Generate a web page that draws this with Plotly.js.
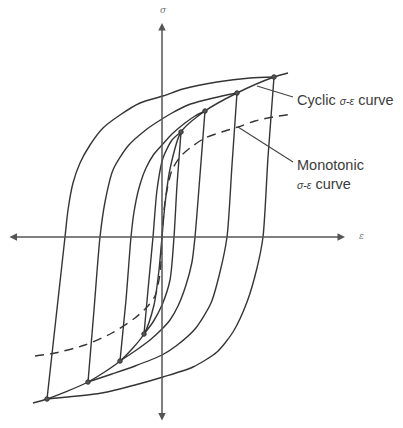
<!DOCTYPE html>
<html>
<head>
<meta charset="utf-8">
<script src="https://cdn.plot.ly/plotly-3.0.1.min.js"></script>
<style>
  html, body { margin: 0; padding: 0; background: #ffffff; }
  #chart { width: 403px; height: 428px; }
</style>
</head>
<body>
<div id="chart"></div>
<script>
// Stable hysteresis loops of increasing strain amplitude (arbitrary units),
// the cyclic stress-strain curve through the loop tips and the monotonic curve.

// Loop 1 (largest amplitude)
const loop1UpStrain = [-11.5, -10.6, -9.7, -9.4, -8.9, -8.2, -7.2, -5.9, -4.2, -2.2, 0.1, 2.1, 5.5, 8.8, 11.2];
const loop1UpStress = [-16.2, -8.1, 0, 2.7, 5.4, 7.4, 9.2, 10.9, 12.2, 13.4, 14.1, 14.8, 15.5, 15.9, 16.0];
const loop1DownStrain = [11.2, 10.6, 10.1, 9.5, 8.5, 7.1, 5.5, 3.1, 0.1, -2.7, -6.0, -9.4, -11.5];
const loop1DownStress = [16.0, 8.0, 0, -3.1, -6.5, -9.5, -11.5, -13.0, -14.0, -14.8, -15.6, -16.0, -16.2];

// Loop 2
const loop2UpStrain = [-7.4, -6.8, -6.2, -5.7, -4.9, -3.4, -1.5, 0, 1.0, 2.6, 4.3, 6.0, 7.5];
const loop2UpStress = [-14.5, -7.3, 0, 3.5, 6.7, 9.1, 10.8, 11.8, 12.4, 13.2, 13.7, 14.1, 14.4];
const loop2DownStrain = [7.5, 7.0, 6.5, 5.8, 4.9, 3.3, 1.4, 0, -2.7, -5.0, -7.4];
const loop2DownStress = [14.4, 7.2, 0, -3.5, -6.6, -9.2, -10.9, -11.8, -12.9, -13.7, -14.5];

// Loop 3
const loop3UpStrain = [-4.2, -3.6, -3.1, -2.8, -2.3, -1.6, -0.8, 0, 1.0, 2.3, 3.3, 4.3];
const loop3UpStress = [-12.4, -6.3, 0, 2.5, 4.9, 6.9, 8.3, 9.2, 10.3, 11.4, 12.1, 12.6];
const loop3DownStrain = [4.3, 3.8, 3.3, 3.0, 2.4, 1.6, 0.8, 0, -1.2, -2.7, -4.2];
const loop3DownStress = [12.6, 6.2, 0, -2.5, -4.8, -6.9, -8.3, -9.2, -10.3, -11.4, -12.4];

// Loop 4 (smallest amplitude)
const loop4UpStrain = [-1.8, -1.4, -0.9, -0.5, 0.1, 1.0, 1.9];
const loop4UpStress = [-9.7, -5.3, 0, 4.7, 7.9, 9.7, 10.5];
const loop4DownStrain = [1.9, 1.5, 1.2, 0.8, 0, -0.9, -1.8];
const loop4DownStress = [10.5, 5.2, 0, -4.3, -6.8, -8.5, -9.7];

// Loop tips
const tipStrain = [11.2, 7.5, 4.3, 1.9, -1.8, -4.2, -7.4, -11.5];
const tipStress = [16.0, 14.4, 12.6, 10.5, -9.7, -12.4, -14.5, -16.2];

// Cyclic stress-strain curve (through the tips)
const cyclicStrain = [-12.9, -11.5, -7.4, -4.2, -1.8, -0.8, -0.3, 0, 0.3, 0.8, 1.9, 4.3, 7.5, 11.2, 12.6];
const cyclicStress = [-16.6, -16.2, -14.5, -12.4, -9.7, -6.8, -3.3, 0, 3.3, 6.8, 10.5, 12.6, 14.4, 16.0, 16.4];

// Monotonic stress-strain curve
const monoStrain = [-12.7, -10.7, -7.7, -5.0, -2.7, -1.4, -0.7, -0.3, -0.1, 0, 0.2, 0.5, 1.0, 1.8, 2.8, 4.3, 6.0, 7.6, 9.3, 11.1, 13.1];
const monoStress = [-11.9, -11.6, -10.8, -9.6, -8.1, -6.9, -5.9, -4.3, -2.5, 0, 2.7, 4.7, 6.7, 8.0, 8.9, 9.9, 10.5, 11.0, 11.6, 12.0, 12.3];

const ink = '#353535';
const solid = { color: ink, width: 1.4, shape: 'spline', smoothing: 0.7 };

function branch(x, y) {
  return { x: x, y: y, type: 'scatter', mode: 'lines', line: solid, hoverinfo: 'skip' };
}

const traces = [
  branch(loop1UpStrain, loop1UpStress),
  branch(loop1DownStrain, loop1DownStress),
  branch(loop2UpStrain, loop2UpStress),
  branch(loop2DownStrain, loop2DownStress),
  branch(loop3UpStrain, loop3UpStress),
  branch(loop3DownStrain, loop3DownStress),
  branch(loop4UpStrain, loop4UpStress),
  branch(loop4DownStrain, loop4DownStress),
  branch(cyclicStrain, cyclicStress),
  {
    x: monoStrain, y: monoStress, type: 'scatter', mode: 'lines', hoverinfo: 'skip',
    line: { color: ink, width: 1.4, dash: '9px,6px', shape: 'spline', smoothing: 0.7 }
  },
  {
    x: tipStrain, y: tipStress, type: 'scatter', mode: 'markers', hoverinfo: 'skip',
    marker: { size: 4.5, color: '#555', line: { color: ink, width: 1 } }
  }
];

const labelFont = { family: 'Liberation Sans, Arial, sans-serif', size: 14.5, color: '#3c3c3c' };
const sym = '<span style="font-size:10.5px"><i>σ-ε</i></span>';

const layout = {
  width: 403,
  height: 428,
  margin: { l: 0, r: 0, t: 0, b: 0 },
  paper_bgcolor: '#ffffff',
  plot_bgcolor: '#ffffff',
  showlegend: false,
  xaxis: { range: [-16.2, 24.1], visible: false, fixedrange: true },
  yaxis: { range: [-19.1, 23.7], visible: false, fixedrange: true },
  shapes: [
    { type: 'line', xref: 'x', yref: 'y', x0: 9.5, y0: 15.1, x1: 13.1, y1: 14.0, line: { color: '#444', width: 1.1 } },
    { type: 'line', xref: 'x', yref: 'y', x0: 7.6, y0: 11.0, x1: 13.1, y1: 7.5, line: { color: '#444', width: 1.1 } }
  ],
  annotations: [
    // strain axis
    { x: 18.3, y: 0, ax: -15.4, ay: 0, xref: 'x', yref: 'y', axref: 'x', ayref: 'y', text: '',
      showarrow: true, arrowside: 'end+start', arrowhead: 2, arrowsize: 1, arrowwidth: 1.5, arrowcolor: '#555' },
    // stress axis
    { x: 0, y: 21.4, ax: 0, ay: -18.5, xref: 'x', yref: 'y', axref: 'x', ayref: 'y', text: '',
      showarrow: true, arrowside: 'end+start', arrowhead: 2, arrowsize: 1, arrowwidth: 1.5, arrowcolor: '#555' },
    { x: 0.1, y: 22.7, xref: 'x', yref: 'y', text: '<i>σ</i>', showarrow: false,
      font: { family: 'DejaVu Serif, serif', size: 9, color: '#777' } },
    { x: 19.9, y: 0.1, xref: 'x', yref: 'y', text: '<i>ε</i>', showarrow: false,
      font: { family: 'DejaVu Serif, serif', size: 9, color: '#777' } },
    { x: 13.3, y: 13.7, xref: 'x', yref: 'y', xanchor: 'left', yanchor: 'middle', showarrow: false,
      text: 'Cyclic ' + sym + ' curve', font: labelFont },
    { x: 13.3, y: 6.3, xref: 'x', yref: 'y', xanchor: 'left', yanchor: 'middle', showarrow: false,
      align: 'left', text: 'Monotonic<br>' + sym + ' curve', font: labelFont }
  ]
};

Plotly.newPlot('chart', traces, layout, { staticPlot: true, displayModeBar: false });
</script>
</body>
</html>
